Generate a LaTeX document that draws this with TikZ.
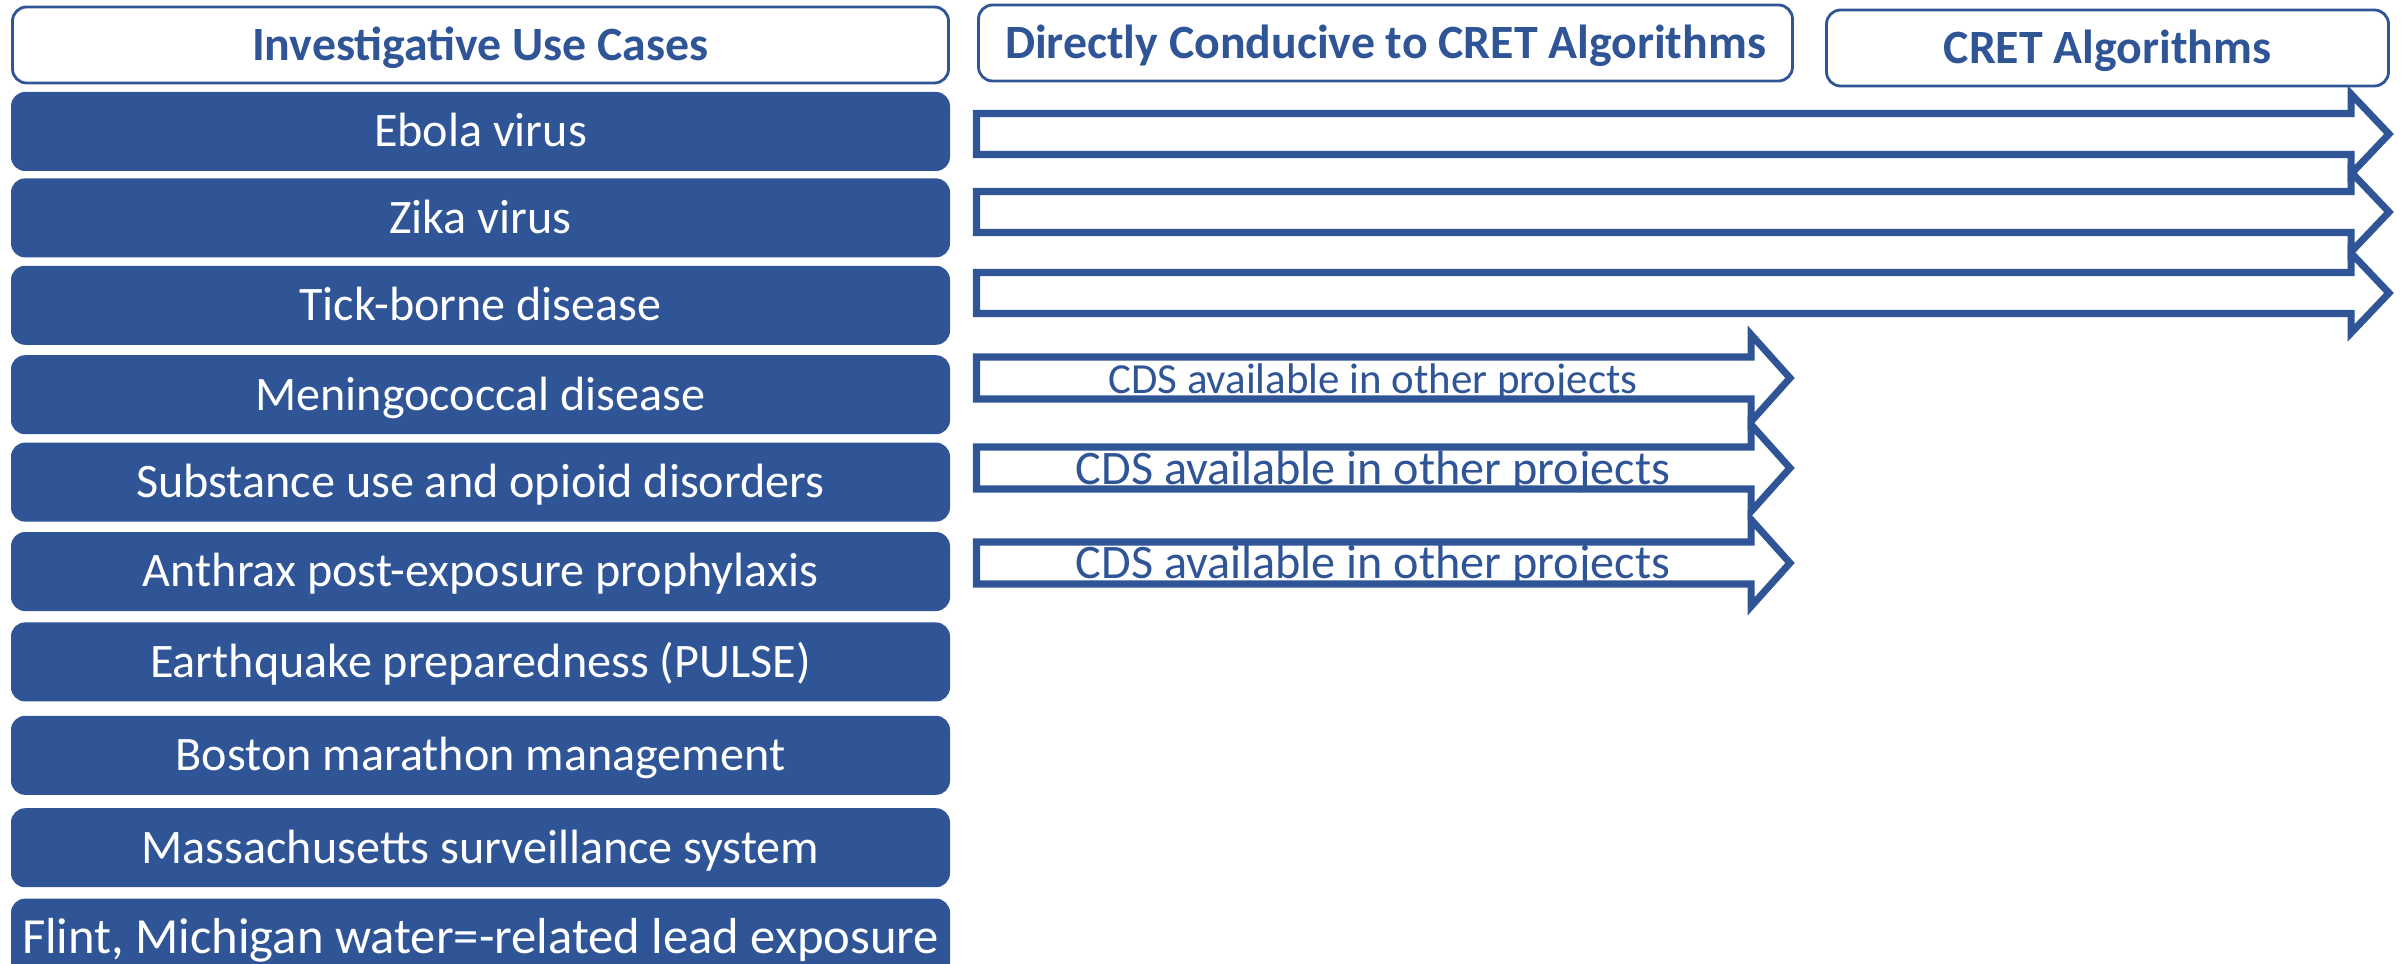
\documentclass[tikz,border=0pt]{standalone}
\usepackage{fontspec}
\setmainfont{Carlito}
\usetikzlibrary{positioning}
\definecolor{cretblue}{RGB}{47,85,151}

\begin{document}
\begin{tikzpicture}[
    x=0.1mm, y=-0.1mm,
    node distance=0.8mm and 1cm,
    usecase/.style={rectangle,rounded corners=4pt,fill=cretblue,text=white,
      minimum width=93.9mm,minimum height=7.9mm,inner sep=0pt,
      font=\fontsize{13.7}{16}\selectfont,text height=8.8pt,text depth=0pt},
    header/.style={rectangle,rounded corners=4pt,draw=cretblue,line width=0.8pt,
      text=cretblue,inner sep=0pt,minimum height=7.6mm,
      font=\fontsize{13.6}{16}\selectfont\bfseries,text height=8.8pt,text depth=0pt},
    blockarrow/.style={draw=cretblue,line width=2pt,line join=miter,fill=white},
    cdslabel/.style={text=cretblue,inner sep=0pt,anchor=base}
    ]

    \useasboundingbox (0,0) rectangle (2402,964);

    % column headers
    \node[header, minimum width=93.6mm] (usecases) at (480.5,45) {Investigative Use Cases};
    \node[header, minimum width=81.4mm] (conducive) at (1385.5,43) {Directly Conducive to CRET Algorithms};
    \node[header, minimum width=56.2mm] (cret) at (2107.5,48) {CRET Algorithms};

    % use cases
    \node[usecase] (ebola) at (480.5,131.5) {Ebola virus};
    \node[usecase, below=0.6mm of ebola] (zika) {Zika virus};
    \node[usecase, below=0.7mm of zika] (tick) {Tick-borne disease};
    \node[usecase, below=0.9mm of tick] (mening) {Meningococcal disease};
    \node[usecase, below=0.7mm of mening] (substance) {Substance use and opioid disorders};
    \node[usecase, below=0.9mm of substance] (anthrax) {Anthrax post-exposure prophylaxis};
    \node[usecase, below=1mm of anthrax] (earthquake) {Earthquake preparedness (PULSE)};
    \node[usecase, below=1.3mm of earthquake] (boston) {Boston marathon management};
    \node[usecase, below=1.2mm of boston] (mass) {Massachusetts surveillance system};
    \node[usecase, below=1mm of mass, font=\fontsize{14.4}{17}\selectfont] (flint) {Flint, Michigan water=-related lead exposure};

    % arrows to CRET algorithms
    \draw[blockarrow] (976.5,113.5) -- (2351,113.5) -- (2351,94) -- (2389,134)
      -- (2351,174) -- (2351,154.5) -- (976.5,154.5) -- cycle;
    \draw[blockarrow] (976.5,191.5) -- (2351,191.5) -- (2351,172) -- (2389,212)
      -- (2351,252) -- (2351,232.5) -- (976.5,232.5) -- cycle;
    \draw[blockarrow] (976.5,272.5) -- (2351,272.5) -- (2351,253) -- (2389,293)
      -- (2351,333) -- (2351,313.5) -- (976.5,313.5) -- cycle;

    % arrows to directly conducive
    \draw[blockarrow] (976.5,357) -- (1751,357) -- (1751,334.5) -- (1790,378)
      -- (1751,421.5) -- (1751,399) -- (976.5,399) -- cycle;
    \draw[blockarrow] (976.5,447) -- (1751,447) -- (1751,424.5) -- (1790,468)
      -- (1751,511.5) -- (1751,489) -- (976.5,489) -- cycle;
    \draw[blockarrow] (976.5,542) -- (1751,542) -- (1751,519.5) -- (1790,563)
      -- (1751,606.5) -- (1751,584) -- (976.5,584) -- cycle;

    \node[cdslabel, font=\fontsize{12.2}{14}\selectfont] (cds1) at (1373,394) {CDS available in other projects};
    \node[cdslabel, font=\fontsize{13.7}{16}\selectfont] (cds2) at (1373,485) {CDS available in other projects};
    \node[cdslabel, font=\fontsize{13.7}{16}\selectfont] (cds3) at (1373,579) {CDS available in other projects};

  \end{tikzpicture}
\end{document}
